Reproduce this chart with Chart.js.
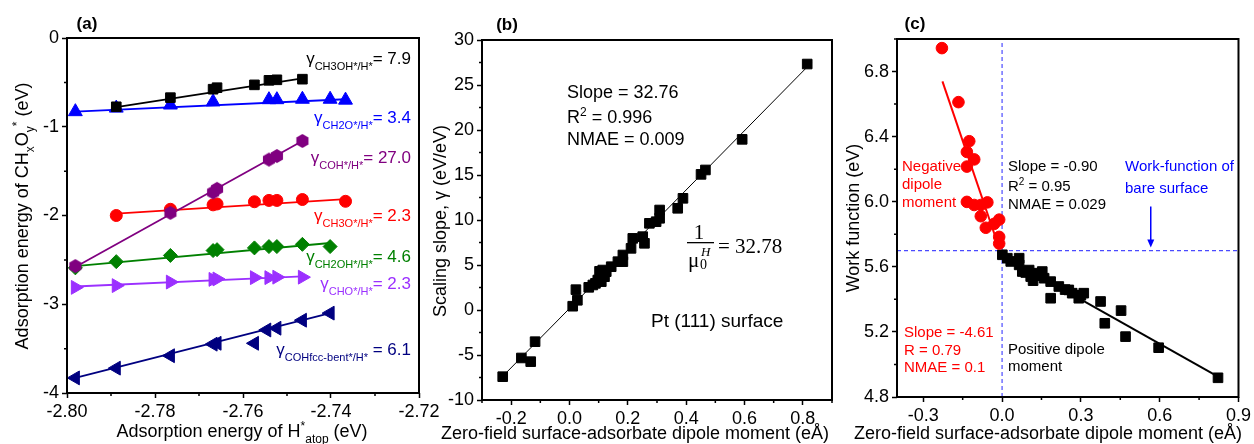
<!DOCTYPE html>
<html>
<head>
<meta charset="utf-8">
<script src="https://cdn.jsdelivr.net/npm/chart.js"></script>
<style>
body { margin: 0; background: #fff; }
#wrap { position: relative; width: 1254px; height: 444px; }
canvas { position: absolute; left: 0; top: 0; }
</style>
</head>
<body>
<div id="wrap">
<canvas id="chartA" width="1254" height="444"></canvas>
<canvas id="chartB" width="1254" height="444"></canvas>
<canvas id="chartC" width="1254" height="444"></canvas>
</div>
<script>
// ---- panel (a): adsorption energy of CHxOy* vs H*atop ----
const ch3ohX = [-2.7888, -2.7765, -2.7668, -2.7659, -2.7574, -2.7541, -2.7523, -2.7465];
const ch3ohY = [-0.775, -0.672, -0.577, -0.560, -0.528, -0.477, -0.471, -0.464];
const ch2oX = [-2.7981, -2.7888, -2.7765, -2.7668, -2.7541, -2.7523, -2.7465, -2.7402, -2.7367];
const ch2oY = [-0.83, -0.79, -0.755, -0.72, -0.695, -0.695, -0.69, -0.69, -0.70];
const cohX = [-2.7981, -2.7765, -2.7668, -2.7659, -2.7541, -2.7523, -2.7465];
const cohY = [-2.57, -1.97, -1.74, -1.70, -1.37, -1.33, -1.16];
const ch3oX = [-2.7888, -2.7765, -2.7668, -2.7659, -2.7574, -2.7541, -2.7523, -2.7465, -2.7367];
const ch3oY = [-2.00, -1.93, -1.88, -1.87, -1.845, -1.83, -1.83, -1.82, -1.84];
const ch2ohX = [-2.7981, -2.7888, -2.7765, -2.7668, -2.7659, -2.7574, -2.7541, -2.7523, -2.7465, -2.7402];
const ch2ohY = [-2.59, -2.52, -2.45, -2.395, -2.385, -2.365, -2.35, -2.35, -2.325, -2.35];
const choX = [-2.7981, -2.7888, -2.7765, -2.7668, -2.7659, -2.7574, -2.7541, -2.7523, -2.7465];
const choY = [-2.81, -2.79, -2.75, -2.72, -2.715, -2.70, -2.70, -2.695, -2.695];
const cohBentX = [-2.7981, -2.7888, -2.7765, -2.7668, -2.7659, -2.7574, -2.7546, -2.7523, -2.7465, -2.7402];
const cohBentY = [-3.83, -3.72, -3.58, -3.45, -3.44, -3.44, -3.29, -3.27, -3.18, -3.10];
// fitted lines (end points)
const fitCh3oh = { x: [-2.7888, -2.7465], y: [-0.78, -0.455] };
const fitCh2o = { x: [-2.7981, -2.7367], y: [-0.83, -0.69] };
const fitCoh = { x: [-2.7981, -2.7465], y: [-2.58, -1.16] };
const fitCh3o = { x: [-2.7888, -2.7367], y: [-1.98, -1.815] };
const fitCh2oh = { x: [-2.7981, -2.7402], y: [-2.57, -2.31] };
const fitCho = { x: [-2.7981, -2.7465], y: [-2.80, -2.685] };
const fitCohBent = { x: [-2.7981, -2.7402], y: [-3.83, -3.10] };
const aXTicks = [-2.80, -2.79, -2.78, -2.77, -2.76, -2.75, -2.74, -2.73, -2.72];
const aXLabels = ['-2.80', '', '-2.78', '', '-2.76', '', '-2.74', '', '-2.72'];
const aYTicks = [-4, -3.5, -3, -2.5, -2, -1.5, -1, -0.5, 0];
const aYLabels = ['-4', '', '-3', '', '-2', '', '-1', '', '0'];

// ---- panel (b): scaling slope vs dipole moment ----
const dipoleB = [-0.229, -0.165, -0.133, -0.118, 0.011, 0.027, 0.022, 0.066, 0.080, 0.089, 0.097, 0.103, 0.109,
  0.114, 0.120, 0.126, 0.143, 0.166, 0.183, 0.183, 0.211, 0.217, 0.251, 0.257, 0.274, 0.297, 0.309, 0.309,
  0.371, 0.389, 0.451, 0.466, 0.592, 0.815];
const slopeB = [-7.41, -5.33, -5.74, -3.52, 0.42, 1.08, 2.26, 2.52, 2.78, 2.96, 3.33, 4.30, 3.15,
  4.44, 3.70, 4.26, 4.81, 5.37, 6.11, 5.37, 6.85, 7.96, 8.15, 7.41, 9.63, 9.81, 11.11, 10.19,
  11.30, 12.41, 15.07, 15.56, 18.96, 27.33];
const fitB = { x: [-0.23, 0.83], y: [-7.4, 27.5] };
const bXTicks = [-0.3, -0.2, -0.1, 0, 0.1, 0.2, 0.3, 0.4, 0.5, 0.6, 0.7, 0.8, 0.9];
const bXLabels = ['', '-0.2', '', '0.0', '', '0.2', '', '0.4', '', '0.6', '', '0.8', ''];
const bYTicks = [-10, -7.5, -5, -2.5, 0, 2.5, 5, 7.5, 10, 12.5, 15, 17.5, 20, 22.5, 25, 27.5, 30];
const bYLabels = ['-10', '', '-5', '', '0', '', '5', '', '10', '', '15', '', '20', '', '25', '', '30'];

// ---- panel (c): work function vs dipole moment ----
const negDipole = [-0.229, -0.166, -0.125, -0.134, -0.106, -0.134, -0.134, -0.106, -0.081, -0.056,
  -0.081, -0.062, -0.030, -0.011, -0.011, -0.011];
const negWork = [6.944, 6.612, 6.372, 6.306, 6.26, 6.216, 5.999, 5.98, 5.98, 5.996,
  5.911, 5.84, 5.864, 5.89, 5.784, 5.743];
const posDipole = [0.001, 0.020, 0.033, 0.065, 0.065, 0.077, 0.090, 0.103, 0.109, 0.118, 0.128, 0.145, 0.153,
  0.160, 0.185, 0.185, 0.216, 0.240, 0.254, 0.267, 0.292, 0.300, 0.311, 0.375, 0.391, 0.453, 0.470, 0.596, 0.822];
const posWork = [5.674, 5.653, 5.633, 5.653, 5.612, 5.571, 5.565, 5.58, 5.54, 5.515, 5.561, 5.545, 5.571,
  5.53, 5.509, 5.407, 5.479, 5.46, 5.458, 5.438, 5.407, 5.425, 5.438, 5.387, 5.253, 5.331, 5.171, 5.103, 4.918];
const fitNeg = { x: [-0.227, -0.012], y: [6.74, 5.72] };
const fitPos = { x: [0.0, 0.822], y: [5.672, 4.925] };
const bareWork = 5.70;
const cXTicks = [-0.3, -0.15, 0, 0.15, 0.3, 0.45, 0.6, 0.75, 0.9];
const cXLabels = ['-0.3', '', '0.0', '', '0.3', '', '0.6', '', '0.9'];
const cYTicks = [4.8, 5.0, 5.2, 5.4, 5.6, 5.8, 6.0, 6.2, 6.4, 6.6, 6.8, 7.0];
const cYLabels = ['4.8', '', '5.2', '', '5.6', '', '6.0', '', '6.4', '', '6.8', ''];

const W = 1254, H = 444;
const FONT = '"Liberation Sans", Arial, Helvetica, sans-serif';
const SERIF = '"Liberation Serif", "DejaVu Serif", serif';
Chart.defaults.font.family = FONT;
Chart.defaults.color = '#000';

function pts(xs, ys) { return xs.map((x, i) => ({ x: x, y: ys[i] })); }

function markers(xs, ys, color, style, r, rot) {
  return { data: pts(xs, ys), backgroundColor: color, borderColor: color, pointStyle: style,
    pointRadius: r, pointBorderWidth: 1, pointRotation: rot || 0, showLine: false, order: 0 };
}
function fitLine(f, color, w, dash) {
  return { data: pts(f.x, f.y), borderColor: color, borderWidth: w, borderDash: dash || [],
    showLine: true, pointRadius: 0, order: 1 };
}
function hexagon(r, color) {
  const c = document.createElement('canvas');
  c.width = c.height = 2 * r + 2;
  const g = c.getContext('2d');
  g.fillStyle = color;
  g.beginPath();
  for (let k = 0; k < 6; k++) {
    const a = -Math.PI / 2 + k * Math.PI / 3;
    g.lineTo(r + 1 + r * Math.cos(a), r + 1 + r * Math.sin(a));
  }
  g.closePath();
  g.fill();
  return c;
}

// labelled ticks are long, the blank (minor) ones get drawn short by the plugin
function axis(min, max, ticks, labels, isX, size) {
  return {
    type: 'linear', min: min, max: max,
    afterBuildTicks: s => { s.ticks = ticks.map(v => ({ value: v })); },
    afterFit: s => { if (isX) s.height = size; else s.width = size; },
    ticks: { callback: (v, i) => labels[i], autoSkip: false, maxRotation: 0, font: { size: 18 }, padding: 3 },
    grid: { drawOnChartArea: false, tickLength: 5, tickWidth: 1.5,
      tickColor: ctx => (ctx.tick && ctx.tick.label === '') ? 'rgba(0,0,0,0)' : '#000' },
    border: { display: false }
  };
}

// text with _{sub} and ^{sup} pieces
function parseRich(s) {
  const out = [];
  const re = /([_^])\{([^}]*)\}|([^_^]+)/g;
  let m;
  while ((m = re.exec(s))) {
    if (m[3] !== undefined) out.push({ t: m[3], k: '' });
    else out.push({ t: m[2], k: m[1] === '_' ? 'sub' : 'sup' });
  }
  return out;
}
function drawRich(ctx, s, x, y, o) {
  const parts = parseRich(s);
  const fs = o.size || 17, sfs = Math.round(fs * 0.66);
  const fam = o.family || FONT;
  const font = k => (o.bold ? 'bold ' : '') + (o.italic ? 'italic ' : '') + (k ? sfs : fs) + 'px ' + fam;
  ctx.save();
  ctx.translate(x, y);
  if (o.rot) ctx.rotate(o.rot);
  ctx.fillStyle = o.color || '#000';
  ctx.textBaseline = 'alphabetic';
  let w = 0;
  parts.forEach(p => { ctx.font = font(p.k); p.w = ctx.measureText(p.t).width; w += p.w; });
  let cx = o.align === 'center' ? -w / 2 : o.align === 'right' ? -w : 0;
  const base = fs * 0.36;
  parts.forEach(p => {
    ctx.font = font(p.k);
    const dy = p.k === 'sub' ? fs * 0.32 : p.k === 'sup' ? -fs * 0.42 : 0;
    ctx.fillText(p.t, cx, base + dy);
    cx += p.w;
  });
  ctx.restore();
}

function minorTicks(c, ctx) {
  const a = c.chartArea;
  ctx.save();
  ctx.strokeStyle = '#000';
  ctx.lineWidth = 1.5;
  ctx.beginPath();
  c.scales.x.ticks.forEach(t => {
    if (t.label !== '') return;
    const px = c.scales.x.getPixelForValue(t.value);
    ctx.moveTo(px, a.bottom); ctx.lineTo(px, a.bottom + 3);
  });
  c.scales.y.ticks.forEach(t => {
    if (t.label !== '') return;
    const py = c.scales.y.getPixelForValue(t.value);
    ctx.moveTo(a.left, py); ctx.lineTo(a.left - 3, py);
  });
  ctx.stroke();
  ctx.restore();
}

function panel(id, box, yW, xH, datasets, xScale, yScale, extra) {
  return new Chart(document.getElementById(id), {
    type: 'scatter',
    data: { datasets: datasets },
    options: {
      responsive: false, animation: false,
      layout: { padding: { left: box.l - yW, top: box.t, right: W - box.r, bottom: H - box.b - xH } },
      plugins: { legend: { display: false }, tooltip: { enabled: false } },
      scales: { x: xScale, y: yScale }
    },
    plugins: [{
      id: 'extra',
      afterDraw: c => {
        const ctx = c.ctx, a = c.chartArea;
        ctx.save();
        ctx.strokeStyle = '#000';
        ctx.lineWidth = 2;
        ctx.strokeRect(a.left, a.top, a.right - a.left, a.bottom - a.top);
        ctx.restore();
        minorTicks(c, ctx);
        extra(c, ctx);
      }
    }]
  });
}

// ---------- (a) ----------
panel('chartA', { l: 67, t: 38, r: 419, b: 393 }, 40, 30, [
  markers(ch3ohX, ch3ohY, '#000000', 'rect', 6.8),
  markers(ch2oX, ch2oY, '#0000ff', 'triangle', 8),
  markers(cohX, cohY, '#800080', hexagon(7, '#800080'), 6),
  markers(ch3oX, ch3oY, '#ff0000', 'circle', 6),
  markers(ch2ohX, ch2ohY, '#008000', 'rectRot', 7),
  markers(choX, choY, '#9b30ff', 'triangle', 8, 90),
  markers(cohBentX, cohBentY, '#000080', 'triangle', 8, -90),
  fitLine(fitCh3oh, '#000000', 1.8),
  fitLine(fitCh2o, '#0000ff', 1.8),
  fitLine(fitCoh, '#800080', 1.8),
  fitLine(fitCh3o, '#ff0000', 1.8),
  fitLine(fitCh2oh, '#008000', 1.8),
  fitLine(fitCho, '#9b30ff', 1.8),
  fitLine(fitCohBent, '#000080', 1.8)
], axis(-2.80, -2.72, aXTicks, aXLabels, true, 30), axis(-4, 0, aYTicks, aYLabels, false, 40), (c, ctx) => {
  drawRich(ctx, '(a)', 87, 23, { size: 17, bold: true, align: 'center' });
  drawRich(ctx, 'Adsorption energy of CH_{x}O_{y}^{*} (eV)', 22, 216, { size: 18, align: 'center', rot: -Math.PI / 2 });
  drawRich(ctx, 'Adsorption energy of H^{*}_{atop} (eV)', 242, 431, { size: 18, align: 'center' });
  const gam = [
    ['γ_{CH3OH*/H*}= 7.9', '#000000', 58],
    ['γ_{CH2O*/H*}= 3.4', '#0000ff', 117],
    ['γ_{COH*/H*}= 27.0', '#800080', 157],
    ['γ_{CH3O*/H*}= 2.3', '#ff0000', 215],
    ['γ_{CH2OH*/H*}= 4.6', '#008000', 256],
    ['γ_{CHO*/H*}= 2.3', '#9b30ff', 283],
    ['γ_{COHfcc-bent*/H*} = 6.1', '#000080', 349]
  ];
  gam.forEach(g => drawRich(ctx, g[0], 411, g[2], { size: 17, color: g[1], align: 'right' }));
});

// ---------- (b) ----------
panel('chartB', { l: 482, t: 40, r: 832, b: 400 }, 40, 30, [
  markers(dipoleB, slopeB, '#000000', 'rect', 6.8),
  fitLine(fitB, '#000000', 1)
], axis(-0.3, 0.9, bXTicks, bXLabels, true, 30), axis(-10, 30, bYTicks, bYLabels, false, 40), (c, ctx) => {
  drawRich(ctx, '(b)', 507, 24, { size: 17, bold: true, align: 'center' });
  drawRich(ctx, 'Scaling slope, γ (eV/eV)', 440, 221, { size: 18, align: 'center', rot: -Math.PI / 2 });
  drawRich(ctx, 'Zero-field surface-adsorbate dipole moment (eÅ)', 635, 433, { size: 18, align: 'center' });
  drawRich(ctx, 'Slope = 32.76', 567, 92, { size: 18 });
  drawRich(ctx, 'R^{2} = 0.996', 567, 117, { size: 18 });
  drawRich(ctx, 'NMAE = 0.009', 567, 139, { size: 18 });
  drawRich(ctx, 'Pt (111) surface', 651, 320, { size: 19 });
  // 1 / mu_0^H = 32.78
  drawRich(ctx, '1', 699, 231, { size: 21, family: SERIF, align: 'center' });
  ctx.fillStyle = '#000';
  ctx.fillRect(687, 242, 27, 1.3);
  drawRich(ctx, 'μ', 688, 259, { size: 21, family: SERIF });
  drawRich(ctx, '0', 700, 264, { size: 14, family: SERIF });
  drawRich(ctx, 'H', 701, 251, { size: 13, family: SERIF, italic: true });
  drawRich(ctx, '= 32.78', 718, 245, { size: 21, family: SERIF });
});

// ---------- (c) ----------
panel('chartC', { l: 897, t: 39, r: 1239, b: 397 }, 40, 30, [
  markers(negDipole, negWork, '#ff0000', 'circle', 5.8),
  markers(posDipole, posWork, '#000000', 'rect', 6.8),
  fitLine(fitNeg, '#ff0000', 2),
  fitLine(fitPos, '#000000', 2),
  fitLine({ x: [-0.4, 0.9], y: [bareWork, bareWork] }, '#4a4aff', 1.2, [4, 3]),
  fitLine({ x: [0, 0], y: [4.8, 7.0] }, '#4a4aff', 1.2, [4, 3])
], axis(-0.4, 0.9, cXTicks, cXLabels, true, 30), axis(4.8, 7.0, cYTicks, cYLabels, false, 40), (c, ctx) => {
  drawRich(ctx, '(c)', 915, 23, { size: 17, bold: true, align: 'center' });
  drawRich(ctx, 'Work function (eV)', 853, 218, { size: 18, align: 'center', rot: -Math.PI / 2 });
  drawRich(ctx, 'Zero-field surface-adsorbate dipole moment (eÅ)', 1048, 433, { size: 18, align: 'center' });
  const red = '#ff0000', blue = '#0000ff';
  [['Negative', 166], ['dipole', 184], ['moment', 202]].forEach(t => drawRich(ctx, t[0], 902, t[1], { size: 15, color: red }));
  [['Slope = -0.90', 166], ['R^{2} = 0.95', 186], ['NMAE = 0.029', 204]].forEach(t => drawRich(ctx, t[0], 1008, t[1], { size: 15 }));
  [['Work-function of', 166], ['bare surface', 188]].forEach(t => drawRich(ctx, t[0], 1125, t[1], { size: 15, color: blue }));
  [['Slope = -4.61', 332], ['R = 0.79', 350], ['NMAE = 0.1', 367]].forEach(t => drawRich(ctx, t[0], 904, t[1], { size: 15, color: red }));
  [['Positive dipole', 349], ['moment', 366]].forEach(t => drawRich(ctx, t[0], 1008, t[1], { size: 15 }));
  // arrow pointing at the bare-surface work function
  const xs = c.scales.x, ys = c.scales.y;
  const ax = xs.getPixelForValue(0.566), y0 = ys.getPixelForValue(5.97), y1 = ys.getPixelForValue(bareWork) - 3;
  ctx.save();
  ctx.strokeStyle = blue;
  ctx.fillStyle = blue;
  ctx.lineWidth = 1.5;
  ctx.beginPath();
  ctx.moveTo(ax, y0);
  ctx.lineTo(ax, y1 - 6);
  ctx.stroke();
  ctx.beginPath();
  ctx.moveTo(ax - 3.5, y1 - 8);
  ctx.lineTo(ax + 3.5, y1 - 8);
  ctx.lineTo(ax, y1);
  ctx.closePath();
  ctx.fill();
  ctx.restore();
});
</script>
</body>
</html>
